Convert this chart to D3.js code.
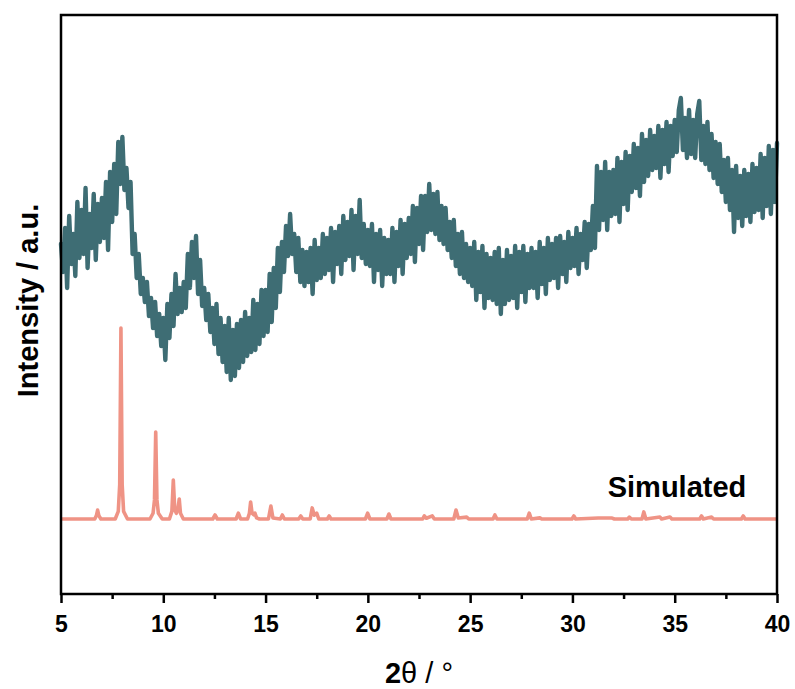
<html>
<script src='https://d3js.org/d3.v7.min.js'></script>
<style>
body {margin:0; background:#fff;}
text {font-family: 'Liberation Sans', Arial, sans-serif;}
</style>
<body onload='init()'>
<svg width=795 height=689></svg>
<script>
// experimental pattern, 5-40 deg in 0.1 deg steps (a.u.)
const expStart = 5, expStep = 0.1;
const expIntensity = [
350,322,366,306,378,330,360,318,392,336,
384,340,406,326,380,346,400,334,390,352,
396,356,412,344,422,372,430,380,452,410,
457,404,426,386,412,340,360,316,340,300,
316,292,312,278,296,266,292,258,280,248,
276,234,290,256,300,268,320,280,306,282,
312,286,340,306,352,316,358,300,334,288,
306,274,300,262,286,250,290,240,276,232,
268,222,276,214,264,218,270,226,274,232,
282,238,276,242,294,244,290,250,304,258,
304,262,320,272,326,286,346,302,352,322,
368,338,380,340,360,322,356,312,344,308,
342,312,346,300,354,314,346,316,360,320,
356,324,366,312,362,330,368,320,378,334,
372,338,384,324,378,340,394,336,370,330,
364,328,370,312,360,324,364,308,356,320,
354,320,366,312,362,328,374,320,370,336,
376,340,388,332,386,350,398,344,398,362,
410,364,400,360,402,354,388,350,386,344,
372,336,374,328,360,320,362,316,350,312,
346,308,352,294,342,302,348,286,340,296,
336,294,342,290,346,280,334,290,344,294,
338,296,348,286,342,302,348,292,340,306,
346,306,342,296,352,310,346,300,356,314,
350,316,356,306,358,320,352,312,362,326,
356,328,366,320,360,334,372,326,370,344,
388,346,428,364,422,374,432,364,422,378,
424,380,436,372,432,390,442,384,438,402,
450,406,446,398,460,412,454,418,464,424,
458,426,468,416,464,430,472,422,468,438,
474,442,484,496,444,476,436,484,440,474,
436,480,493,434,468,430,472,424,460,416,
452,410,450,402,434,392,436,384,424,362,
428,376,418,368,424,378,420,372,430,382,
426,384,440,376,436,388,448,380,444,392,
451
];

// simulated pattern (relative intensity, %)
const simAngle = [
5.00,6.65,6.73,6.79,6.85,6.95,7.65,7.80,7.87,7.93,7.99,8.06,8.25,
9.35,9.50,9.57,9.63,9.69,9.76,9.95,10.30,10.42,10.49,10.56,10.64,10.72,10.78,10.84,10.98,
12.42,12.53,12.64,13.56,13.67,13.78,14.12,14.21,14.27,14.34,14.42,14.48,14.56,14.70,
15.14,15.26,15.36,15.72,15.82,15.92,16.62,16.72,16.82,17.18,17.28,17.38,17.50,17.60,
18.02,18.11,18.20,19.88,19.99,20.10,20.93,21.03,21.13,22.68,22.76,22.86,23.15,23.25,
24.20,24.31,24.42,24.83,24.93,26.12,26.21,26.31,27.79,27.89,27.99,28.41,28.50,
29.98,30.07,30.16,31.26,31.94,32.05,32.70,32.78,32.88,33.40,33.49,33.59,34.28,34.36,
34.77,34.86,36.22,36.31,36.40,36.80,36.90,38.26,38.35,38.44,40.00
];
const simIntensity = [
0,0,1.8,4.7,1.8,0,0,4,18,100,18,4,0,
0,3,10,45.5,10,3,0,0,4,20.4,5,3,5.5,10.5,3,0,
0,2.1,0,0,3.1,0,0,3,8.9,3,2.2,3.1,0.6,0,
0,6.8,0.5,0,2.1,0,0,1.6,0,0,5.8,2,3.1,0,
0,1.6,0,0,3.1,0,0,2.6,0,0,1.6,0.4,1.6,0,
0,4.7,0.5,1.0,0,0,2.1,0,0,3.1,0,0.6,0,
0,1.6,0,0.5,0.5,0,0,1.0,0,0,3.7,0,1.0,0,
1.0,0,0,1.6,0,1.0,0,0,1.6,0,0
];
const simOffset = 75, simScale = 1.91;

const xTicks = [5,10,15,20,25,30,35,40];
const xMinor = [7.5,12.5,17.5,22.5,27.5,32.5,37.5];

function init() {
  const svg = d3.select('svg');
  const left = 61, right = 777, top = 15, bottom = 594;

  const x = d3.scaleLinear().domain([5,40]).range([left,right]);
  const y = d3.scaleLinear().domain([0,579]).range([bottom,top]);

  const expData = expIntensity.map((v,i) => [expStart + i*expStep, v]);
  const simData = simAngle.map((a,i) => [a, simOffset + simIntensity[i]*simScale]);

  const line = d3.line().x(d => x(d[0])).y(d => y(d[1]));

  svg.append('path')
    .datum(simData)
    .attr('d', line)
    .attr('fill','none')
    .attr('stroke','#ef9385')
    .attr('stroke-width',3.6)
    .attr('stroke-linejoin','round');

  svg.append('path')
    .datum(expData)
    .attr('d', line)
    .attr('fill','none')
    .attr('stroke','#3e6d74')
    .attr('stroke-width',4.4)
    .attr('stroke-linejoin','round')
    .attr('stroke-linecap','round');

  // minor ticks
  svg.append('g')
    .attr('transform','translate(0,'+bottom+')')
    .call(d3.axisBottom(x).tickValues(xMinor).tickSize(5).tickFormat(''))
    .call(g => g.select('.domain').remove())
    .selectAll('line').attr('stroke-width',2.5);

  // major ticks
  const ax = svg.append('g')
    .attr('transform','translate(0,'+bottom+')')
    .call(d3.axisBottom(x).tickValues(xTicks).tickSize(9).tickPadding(13).tickFormat(d3.format('d')));
  ax.select('.domain').remove();
  ax.selectAll('line').attr('stroke-width',2.5);
  ax.selectAll('text')
    .attr('font-family',"'Liberation Sans', Arial, sans-serif")
    .attr('font-size',23).attr('font-weight','bold').attr('fill','#000');

  // frame
  svg.append('rect')
    .attr('x',left).attr('y',top)
    .attr('width',right-left).attr('height',bottom-top)
    .attr('fill','none').attr('stroke','#000').attr('stroke-width',2.5);

  svg.append('text')
    .attr('x',(left+right)/2).attr('y',683)
    .attr('text-anchor','middle')
    .attr('font-size',29)
    .call(t => {
      t.append('tspan').attr('font-weight','bold').text('2');
      t.append('tspan').text('θ / °');
    });

  svg.append('text')
    .attr('transform','translate(38,'+((top+bottom)/2 - 4)+') rotate(-90)')
    .attr('text-anchor','middle')
    .attr('font-size',29).attr('font-weight','bold')
    .text('Intensity / a.u.');

  svg.append('text')
    .attr('x',x(38.5)).attr('y',497)
    .attr('text-anchor','end')
    .attr('font-size',29).attr('font-weight','bold')
    .text('Simulated');
}
</script>
</body>
</html>
